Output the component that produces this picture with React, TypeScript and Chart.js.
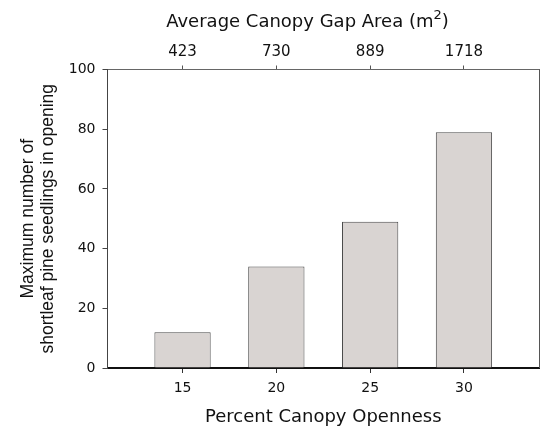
import React, { useEffect, useRef } from "react";
import { Chart, registerables } from "chart.js";

Chart.register(...registerables);

const openness = [15, 20, 25, 30];
const seedlings = [12, 34, 49, 79];
const gapArea = ["423", "730", "889", "1718"];
const yTicksMax = 100;

const topTitleMain = "Average Canopy Gap Area (m";
const topTitleSup = "2";
const topTitleEnd = ")";

const frameAndTitle = {
  id: "frameAndTitle",
  afterDraw(chart: any) {
    const { ctx, chartArea } = chart;
    ctx.save();
    // right frame line
    ctx.strokeStyle = "#555";
    ctx.lineWidth = 1;
    ctx.beginPath();
    ctx.moveTo(Math.round(chartArea.right) + 0.5, chartArea.top);
    ctx.lineTo(Math.round(chartArea.right) + 0.5, chartArea.bottom);
    ctx.stroke();
    // top title with superscript
    const mainFont = "18px 'DejaVu Sans'";
    const supFont = "13px 'DejaVu Sans'";
    ctx.font = mainFont;
    const w1 = ctx.measureText(topTitleMain).width;
    const w3 = ctx.measureText(topTitleEnd).width;
    ctx.font = supFont;
    const w2 = ctx.measureText(topTitleSup).width;
    const total = w1 + w2 + w3;
    const cx = chartArea.left + 200;
    let x = cx - total / 2;
    const baseline = 27;
    ctx.fillStyle = "#111";
    ctx.textAlign = "left";
    ctx.textBaseline = "alphabetic";
    ctx.font = mainFont;
    ctx.fillText(topTitleMain, x, baseline);
    x += w1;
    ctx.font = supFont;
    ctx.fillText(topTitleSup, x, baseline - 8);
    x += w2;
    ctx.font = mainFont;
    ctx.fillText(topTitleEnd, x, baseline);
    ctx.restore();
  },
};

export default function App() {
  const ref = useRef<HTMLCanvasElement>(null);
  useEffect(() => {
    if (!ref.current) return;
    const tickSet = (scale: any) => {
      scale.ticks = openness.map((v) => ({ value: v }));
    };
    const chart = new Chart(ref.current, {
      type: "bar",
      data: {
        datasets: [
          {
            data: openness.map((v, i) => ({ x: v, y: seedlings[i] })),
            backgroundColor: "#d9d4d2",
            borderColor: "#4a4a4a",
            borderWidth: 1,
            barPercentage: 0.6,
            categoryPercentage: 1,
            xAxisID: "x",
            yAxisID: "y",
          },
        ],
      },
      options: {
        animation: false,
        responsive: false,
        layout: { padding: { left: 0, right: 6, top: 0, bottom: 0 } },
        plugins: { legend: { display: false }, tooltip: { enabled: false } },
        scales: {
          x: {
            type: "linear",
            position: "bottom",
            min: 11,
            max: 34,
            offset: false,
            afterBuildTicks: tickSet,
            afterFit: (s: any) => {
              s.height = 61;
            },
            ticks: {
              font: { family: "DejaVu Sans", size: 14 },
              color: "#111",
              padding: 7,
              maxRotation: 0,
            },
            grid: { drawOnChartArea: false, offset: false, tickLength: 5, color: "#333" },
            border: { color: "#111", width: 2 },
            title: {
              display: true,
              text: "Percent Canopy Openness",
              font: { family: "DejaVu Sans", size: 18 },
              color: "#111",
              padding: { top: 0, bottom: 1 },
            },
          },
          x2: {
            type: "linear",
            position: "top",
            min: 11,
            max: 34,
            offset: false,
            afterBuildTicks: tickSet,
            afterFit: (s: any) => {
              s.height = 69.5;
            },
            ticks: {
              font: { family: "DejaVu Sans", size: 15 },
              color: "#111",
              padding: 4,
              maxRotation: 0,
              callback: (value: any) => {
                const i = openness.indexOf(Number(value));
                return i >= 0 ? gapArea[i] : "";
              },
            },
            grid: { drawOnChartArea: false, offset: false, tickLength: 4, color: "#555" },
            border: { color: "#666", width: 1 },
          },
          y: {
            type: "linear",
            position: "left",
            min: 0,
            max: yTicksMax,
            afterFit: (s: any) => {
              s.width = 107.5;
            },
            ticks: {
              stepSize: 20,
              font: { family: "DejaVu Sans", size: 14 },
              color: "#111",
              padding: 7,
            },
            grid: { drawOnChartArea: false, tickLength: 5, color: "#444" },
            border: { color: "#444", width: 1 },
            title: {
              display: true,
              text: ["Maximum number of", "shortleaf pine seedlings in opening"],
              font: { family: "Liberation Sans", size: 17.5, lineHeight: 1.15 },
              color: "#111",
              padding: { top: 18, bottom: 0 },
            },
          },
        },
      },
      plugins: [frameAndTitle],
    } as any);
    return () => chart.destroy();
  }, []);
  return (
    <div style={{ position: "fixed", left: 0, top: 0, width: 545, height: 429, background: "#fff" }}>
      <canvas ref={ref} width={545} height={429} />
    </div>
  );
}
